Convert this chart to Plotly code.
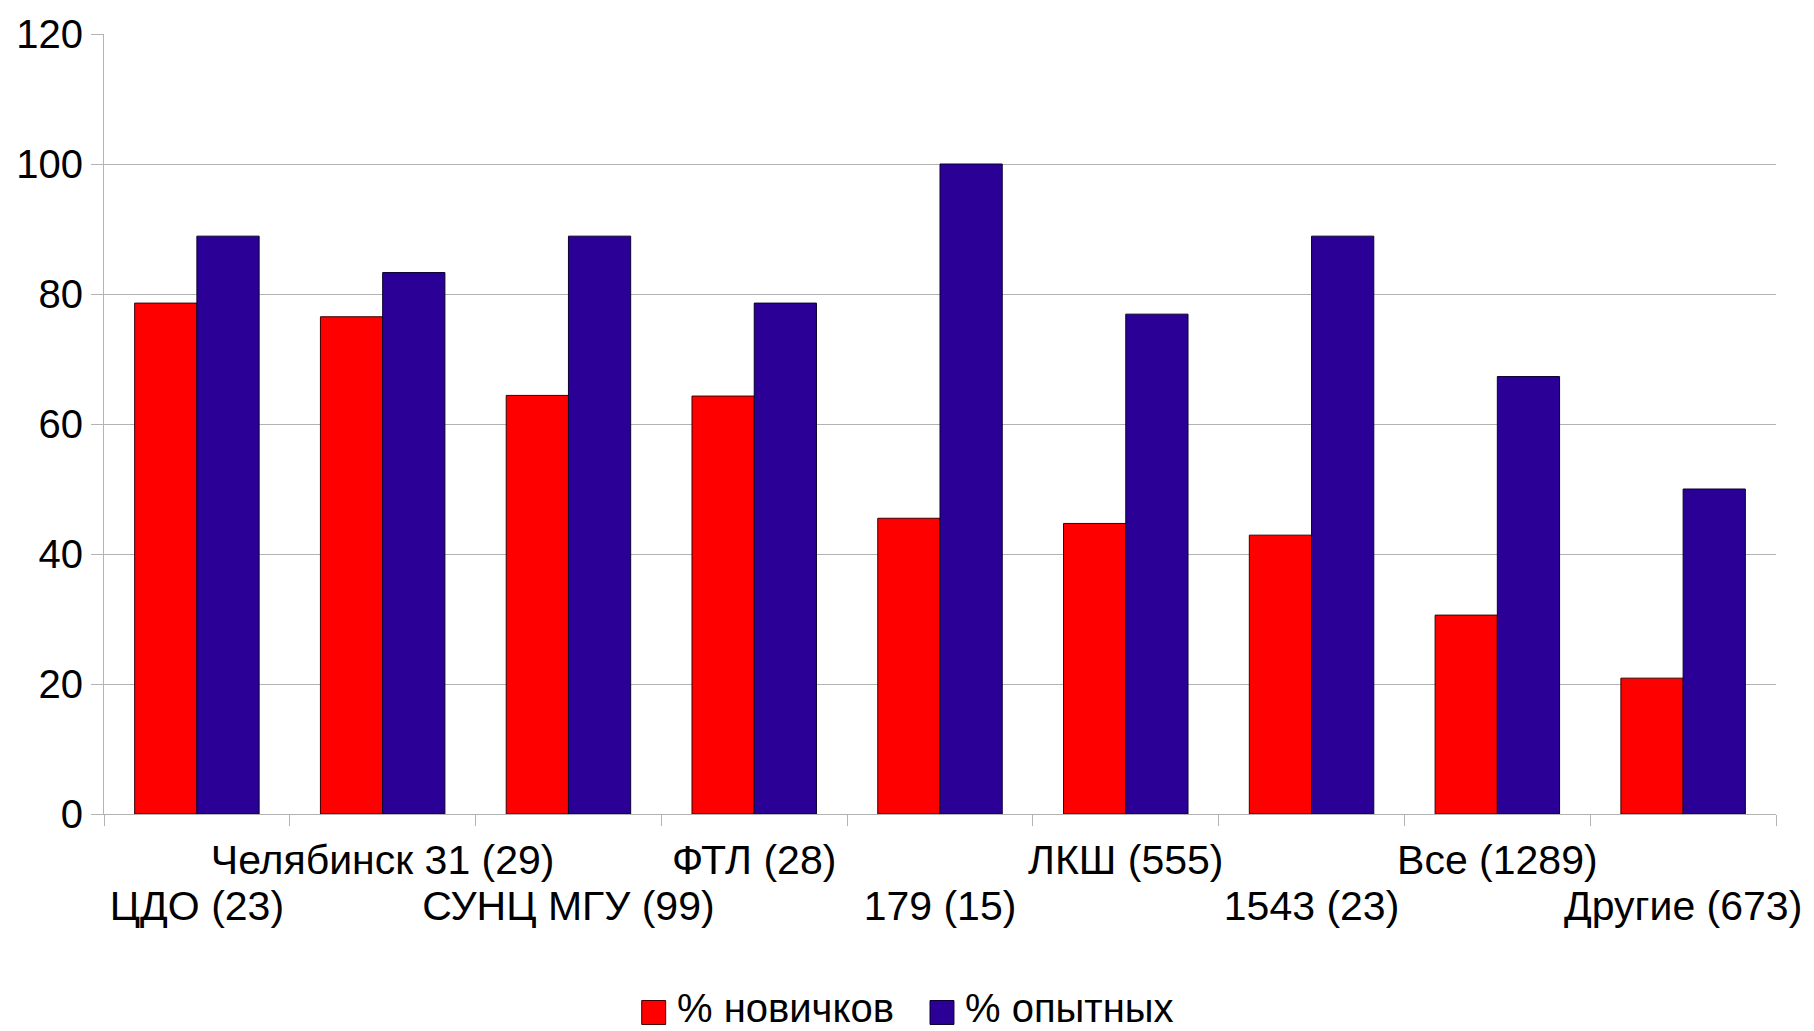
import plotly.graph_objects as go

categories = ["ЦДО (23)", "Челябинск 31 (29)", "СУНЦ МГУ (99)", "ФТЛ (28)", "179 (15)",
              "ЛКШ (555)", "1543 (23)", "Все (1289)", "Другие (673)"]
novices = [78.6, 76.5, 64.4, 64.3, 45.5, 44.7, 42.9, 30.6, 20.9]
experienced = [88.9, 83.3, 88.9, 78.6, 100.0, 76.9, 88.9, 67.3, 50.0]
series_names = ["% новичков", "% опытных"]
series_colors = ["#FF0000", "#2A0096"]
edge_colors = ["#3a0000", "#0a0030"]
y_ticks = [0, 20, 40, 60, 80, 100, 120]

FONT = "Liberation Sans, Arial, sans-serif"
W, H = 1814, 1031
ML, MR, MT, MB = 104, 34, 32, 217
PW, PH = W - ML - MR, H - MT - MB


def px_x(x):  # pixel -> paper
    return (x - ML) / PW


def px_y(y):
    return (H - MB - y) / PH


# staggered labels: odd ones on the first row (x axis), even ones on the second row (x2)
row2_idx = [i for i in range(len(categories)) if i % 2 == 0]
row2_text = [categories[i] for i in row2_idx]
row1_text = [c if i % 2 == 1 else "" for i, c in enumerate(categories)]

fig = go.Figure()
for vals, name, col, edge in zip([novices, experienced], series_names, series_colors, edge_colors):
    fig.add_trace(go.Bar(x=categories, y=vals, name=name, showlegend=False,
                         marker=dict(color=col, line=dict(color=edge, width=1))))
# invisible helper trace so the second (label) axis is drawn
fig.add_trace(go.Scatter(x=row2_idx, y=[None] * len(row2_idx), xaxis="x2", yaxis="y",
                         mode="markers", marker=dict(opacity=0), showlegend=False,
                         hoverinfo="skip"))

# legend (large square swatches like the original)
legend_items = [(643, 678), (932, 967)]
for (sx, tx), name, col, edge in zip(legend_items, series_names, series_colors, edge_colors):
    fig.add_shape(type="rect", xref="paper", yref="paper",
                  x0=px_x(sx), x1=px_x(sx + 24), y0=px_y(1025), y1=px_y(1001),
                  fillcolor=col, line=dict(color=edge, width=1))
    fig.add_annotation(xref="paper", yref="paper", x=px_x(tx - 2), y=px_y(1033),
                       xanchor="left", yanchor="bottom", showarrow=False, text=name,
                       font=dict(size=40, family=FONT, color="black"))

fig.update_layout(
    width=W, height=H,
    barmode="group", bargap=0.33, bargroupgap=0,
    plot_bgcolor="white", paper_bgcolor="white",
    margin=dict(l=ML, r=MR, t=MT, b=MB),
    font=dict(family=FONT, size=40, color="black"),
    showlegend=False,
    xaxis=dict(
        type="category", range=[-0.5, len(categories) - 0.5],
        tickmode="array", tickvals=categories, ticktext=row1_text,
        tickson="boundaries", ticks="outside", ticklen=11, tickcolor="#b3b3b3",
        showline=True, linecolor="#b3b3b3", linewidth=1, ticklabelstandoff=10,
        showgrid=False, tickfont=dict(size=41, family=FONT), tickangle=0,
    ),
    xaxis2=dict(
        overlaying="x", anchor="y", side="bottom", type="linear",
        range=[-0.5, len(categories) - 0.5],
        tickmode="array", tickvals=row2_idx, ticktext=row2_text,
        ticks="", showline=False, showgrid=False, zeroline=False,
        ticklabelstandoff=64, tickfont=dict(size=41, family=FONT), tickangle=0,
    ),
    yaxis=dict(
        range=[0, 120], tickvals=y_ticks, ticks="outside", ticklen=12, tickcolor="#b3b3b3",
        showline=True, linecolor="#b3b3b3", linewidth=1,
        showgrid=True, gridcolor="#b3b3b3", gridwidth=1, zeroline=False,
        tickfont=dict(size=40, family=FONT),
    ),
)

fig.write_html("out.html", config={"displayModeBar": False},
               post_script="document.body.style.margin='0';document.body.style.overflow='hidden';")
